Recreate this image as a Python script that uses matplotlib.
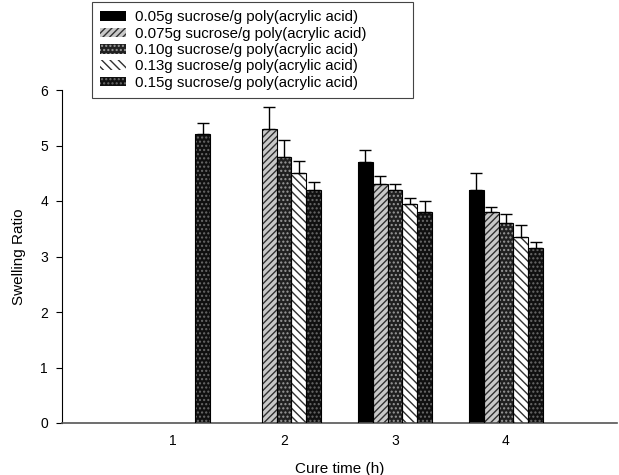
import numpy as np
import matplotlib.pyplot as plt
import matplotlib.patches as mpatches

plt.rcParams['font.family'] = ['Liberation Sans', 'DejaVu Sans']
plt.rcParams['hatch.linewidth'] = 1.0

cure_time = [1, 2, 3, 4]
labels = ["0.05g sucrose/g poly(acrylic acid)",
          "0.075g sucrose/g poly(acrylic acid)",
          "0.10g sucrose/g poly(acrylic acid)",
          "0.13g sucrose/g poly(acrylic acid)",
          "0.15g sucrose/g poly(acrylic acid)"]

# nan = no bar at that cure time
s005 = [np.nan, np.nan, 4.7, 4.2]
s0075 = [np.nan, 5.3, 4.3, 3.8]
s010 = [np.nan, 4.8, 4.2, 3.6]
s013 = [np.nan, 4.5, 3.95, 3.35]
s015 = [5.2, 4.2, 3.8, 3.15]

e005 = [0, 0, 0.22, 0.3]
e0075 = [0, 0.4, 0.15, 0.1]
e010 = [0, 0.3, 0.1, 0.16]
e013 = [0, 0.22, 0.1, 0.22]
e015 = [0.2, 0.15, 0.2, 0.11]

series = [s005, s0075, s010, s013, s015]
errs = [e005, e0075, e010, e013, e015]

# face, hatch, hatch colour
styles = [("black", None, "black"),
          ("#c8c8c8", "/////", "#303030"),
          ("#202020", "....", "#9a9a9a"),
          ("white", "\\\\\\\\", "#303030"),
          ("#101010", "....", "#6a6a6a")]

fig = plt.figure(figsize=(6.19, 4.75), dpi=100)
ax = fig.add_axes([62/619, 1-423/475, 555/619, 333/475])

w = 2/15
x = np.array(cure_time, dtype=float)
handles = []
for i, (vals, err) in enumerate(zip(series, errs)):
    face, hatch, hc = styles[i]
    pos = x + (i - 2) * w
    v = np.array(vals, dtype=float)
    ax.bar(pos, v, w, color=face, edgecolor=hc, hatch=hatch, linewidth=0, zorder=2)
    ax.bar(pos, v, w, color="none", edgecolor="black", linewidth=0.8, zorder=3)
    ok = ~np.isnan(v)
    ax.errorbar(pos[ok], v[ok], yerr=[np.zeros(ok.sum()), np.array(err)[ok]],
                fmt="none", ecolor="black", elinewidth=1, capsize=4.5, capthick=1, zorder=4)
    handles.append(mpatches.Patch(facecolor=face, edgecolor=hc, hatch=hatch, linewidth=0))

ax.set_xlim(0, 5)
ax.set_ylim(0, 6)
ax.set_xticks(cure_time)
ax.set_yticks(range(0, 7))
ax.tick_params(axis='x', length=0, pad=8, labelsize=10)
ax.tick_params(axis='y', length=4, labelsize=10, direction='out', pad=6)
ax.spines['top'].set_visible(False)
ax.spines['right'].set_visible(False)
ax.spines['bottom'].set_color('#555555')
ax.spines['bottom'].set_linewidth(1.2)
ax.set_xlabel("Cure time (h)", fontsize=11, labelpad=10)
ax.set_ylabel("Swelling Ratio", fontsize=11, labelpad=10)

leg = fig.legend(handles, labels, loc='upper left',
                 bbox_to_anchor=(92/619, 1-95/475, 321/619, 93/475), mode='expand',
                 fontsize=10.8, handlelength=1.7, handleheight=0.6, labelspacing=0.16,
                 handletextpad=0.6, borderpad=0.55, borderaxespad=0,
                 fancybox=False, framealpha=1)
leg.get_frame().set_edgecolor('#444444')
leg.get_frame().set_linewidth(0.8)

fig.savefig("out.png", dpi=100)
